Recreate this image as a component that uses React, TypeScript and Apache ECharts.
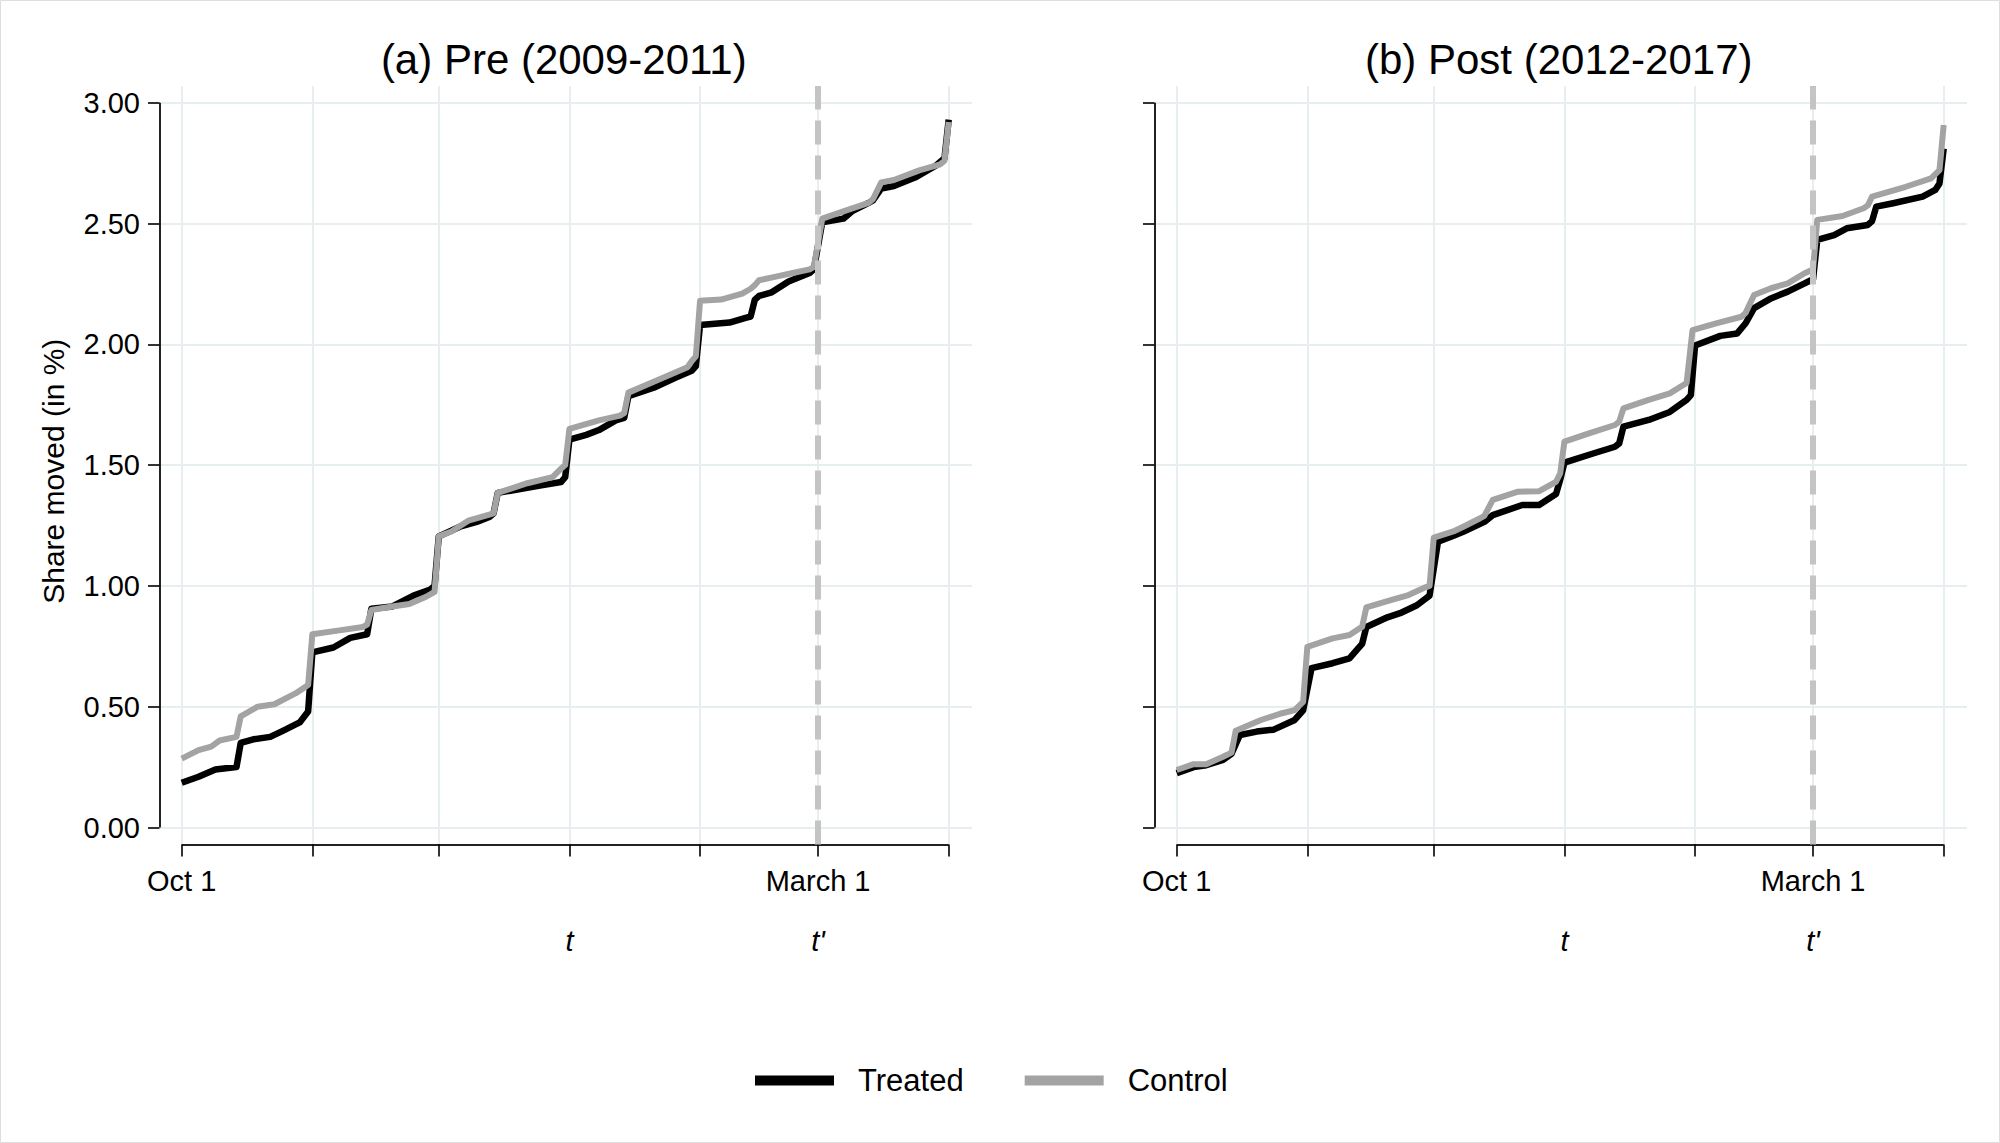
import React, { useEffect, useRef } from "react";
import * as echarts from "echarts";

// ---- data ----
const panelTitles = ["(a) Pre (2009-2011)", "(b) Post (2012-2017)"];
const seriesNames = ["Treated", "Control"];
const monthTickDays = [0, 31, 61, 92, 123, 151, 182];
const monthLabelDays = [0, 151];
const monthLabels = ["Oct 1", "March 1"];
const markerDays = [92, 151];
const markerLabels = ["t", "t'"];
const yTicks = [0, 0.5, 1, 1.5, 2, 2.5, 3];
const cutoffDay = 151;
const yAxisTitle = "Share moved (in %)";

const preTreatedDays = [0, 4, 8, 13, 14, 17, 21, 24, 28, 30, 31, 36, 40, 44, 45, 50, 55, 59, 60, 61, 66, 70, 73, 74, 75, 80, 85, 90, 91, 92, 96, 99, 103, 105, 106, 112, 117, 121, 122, 123, 130, 134, 135, 136, 137, 140, 144, 149, 150, 152, 157, 159, 163, 164, 166, 169, 174, 179, 181, 182];
const preTreatedVals = [0.185, 0.21, 0.24, 0.25, 0.35, 0.365, 0.375, 0.4, 0.435, 0.48, 0.725, 0.745, 0.785, 0.8, 0.905, 0.915, 0.96, 0.985, 1.0, 1.205, 1.245, 1.265, 1.285, 1.3, 1.385, 1.4, 1.415, 1.43, 1.45, 1.605, 1.625, 1.645, 1.685, 1.695, 1.785, 1.82, 1.86, 1.89, 1.91, 2.08, 2.09, 2.11, 2.115, 2.185, 2.2, 2.215, 2.26, 2.295, 2.31, 2.505, 2.52, 2.55, 2.585, 2.595, 2.645, 2.655, 2.69, 2.74, 2.77, 2.93];

const preControlDays = [0, 4, 7, 9, 13, 14, 18, 22, 27, 30, 31, 37, 43, 44, 45, 50, 54, 58, 60, 61, 64, 68, 73, 74, 75, 82, 88, 90, 91, 92, 99, 104, 105, 106, 112, 120, 121, 122, 123, 128, 133, 135, 136, 137, 141, 145, 149, 150, 152, 157, 163, 164, 166, 169, 175, 180, 181, 182];
const preControlVals = [0.285, 0.32, 0.335, 0.36, 0.375, 0.46, 0.5, 0.51, 0.555, 0.59, 0.8, 0.815, 0.83, 0.84, 0.9, 0.915, 0.925, 0.955, 0.975, 1.205, 1.225, 1.27, 1.295, 1.3, 1.385, 1.425, 1.45, 1.485, 1.5, 1.65, 1.685, 1.705, 1.715, 1.8, 1.845, 1.905, 1.93, 1.95, 2.18, 2.185, 2.21, 2.23, 2.245, 2.265, 2.28, 2.295, 2.31, 2.32, 2.52, 2.55, 2.585, 2.6, 2.67, 2.68, 2.72, 2.745, 2.76, 2.92];

const postTreatedDays = [0, 4, 7, 11, 13, 15, 19, 23, 28, 30, 32, 37, 41, 43, 44, 45, 50, 53, 57, 60, 62, 66, 68, 73, 75, 82, 86, 90, 91, 92, 99, 104, 105, 106, 112, 117, 121, 122, 123, 129, 133, 135, 137, 141, 145, 149, 151, 152, 156, 159, 164, 165, 166, 170, 177, 180, 181, 182];
const postTreatedVals = [0.225, 0.25, 0.258, 0.28, 0.305, 0.383, 0.397, 0.405, 0.445, 0.485, 0.66, 0.68, 0.7, 0.74, 0.76, 0.83, 0.87, 0.887, 0.92, 0.96, 1.183, 1.21, 1.224, 1.265, 1.293, 1.335, 1.335, 1.38, 1.44, 1.51, 1.549, 1.576, 1.59, 1.659, 1.687, 1.72, 1.77, 1.79, 1.995, 2.035, 2.045, 2.087, 2.15, 2.19, 2.218, 2.252, 2.27, 2.432, 2.452, 2.48, 2.494, 2.51, 2.57, 2.584, 2.611, 2.639, 2.666, 2.81];

const postControlDays = [0, 4, 7, 11, 13, 14, 20, 25, 28, 30, 31, 37, 41, 43, 44, 45, 51, 55, 59, 60, 61, 66, 68, 72, 73, 75, 81, 86, 90, 91, 92, 98, 104, 105, 106, 112, 117, 121, 122.4, 128, 134, 135, 137, 141, 145, 149, 151, 152, 158, 163, 164, 165, 173, 179, 181, 182];
const postControlVals = [0.238, 0.262, 0.262, 0.293, 0.31, 0.4, 0.445, 0.473, 0.486, 0.52, 0.748, 0.783, 0.797, 0.82, 0.83, 0.911, 0.942, 0.962, 0.994, 1.0, 1.2, 1.228, 1.245, 1.28, 1.29, 1.356, 1.39, 1.392, 1.431, 1.466, 1.597, 1.632, 1.666, 1.68, 1.735, 1.77, 1.797, 1.84, 2.059, 2.087, 2.114, 2.13, 2.204, 2.232, 2.252, 2.294, 2.31, 2.515, 2.531, 2.563, 2.575, 2.611, 2.652, 2.687, 2.721, 2.908];

const panels = [
  { treatedDays: preTreatedDays, treatedVals: preTreatedVals, controlDays: preControlDays, controlVals: preControlVals },
  { treatedDays: postTreatedDays, treatedVals: postTreatedVals, controlDays: postControlDays, controlVals: postControlVals },
];

// ---- layout / style (pixels, relative to each panel) ----
const FONT = "'Liberation Sans', Arial, Helvetica, sans-serif";
const PANEL_OFFSETS = [0, 995];
const DAY0_PX = 181.7; // x pixel of day 0 in the left panel
const PX_PER_DAY = 767 / 182;
const VAL0_PX = 827.5; // y pixel of value 0
const PX_PER_VAL = 724.8 / 3;
const GRID_L_PX = 148; // end of y ticks
const GRID_R_PX = 972;
const GRID_T_PX = 86;
const GRID_B_PX = 856.5; // end of x ticks
const YAXIS_PX = 159.5;
const XAXIS_PX = 844.5;

const pxToDay = (px: number) => (px - DAY0_PX) / PX_PER_DAY;
const pxToVal = (py: number) => (VAL0_PX - py) / PX_PER_VAL;
const X_MIN = pxToDay(GRID_L_PX);
const X_MAX = pxToDay(GRID_R_PX);
const Y_MIN = pxToVal(GRID_B_PX);
const Y_MAX = pxToVal(GRID_T_PX);
const AXIS_X = pxToDay(YAXIS_PX);
const AXIS_Y = pxToVal(XAXIS_PX);

const TREATED_COLOR = "#000000";
const CONTROL_COLOR = "#a3a3a3";
const GRID_COLOR = "#e6eef0";

const zip = (xs: number[], ys: number[]) => xs.map((x, i) => [x, ys[i]]);
const near = (a: number, b: number) => Math.abs(a - b) < 1e-6;
const seg = (a: number[], b: number[], lineStyle: any) => [{ coord: a, lineStyle }, { coord: b }];

function buildOption() {
  const grid = PANEL_OFFSETS.map((off) => ({
    left: GRID_L_PX + off,
    top: GRID_T_PX,
    width: GRID_R_PX - GRID_L_PX,
    height: GRID_B_PX - GRID_T_PX,
    containLabel: false,
    outerBoundsMode: "none",
  }));

  const xAxis: any[] = [];
  const yAxis: any[] = [];
  const series: any[] = [];

  panels.forEach((p, i) => {
    xAxis.push({
      gridIndex: i,
      type: "value",
      min: X_MIN,
      max: X_MAX,
      axisLine: { show: false },
      splitLine: { show: false },
      axisTick: { show: false },
      axisLabel: {
        show: true,
        customValues: monthLabelDays,
        formatter: (v: number) => {
          const k = monthLabelDays.findIndex((d) => near(d, v));
          return k >= 0 ? monthLabels[k] : "";
        },
        margin: 10,
        fontSize: 29,
        color: "#000",
        fontFamily: FONT,
      },
    });
    xAxis.push({
      gridIndex: i,
      type: "value",
      min: X_MIN,
      max: X_MAX,
      position: "bottom",
      axisLine: { show: false },
      splitLine: { show: false },
      axisTick: { show: false },
      axisLabel: {
        show: true,
        customValues: markerDays,
        formatter: (v: number) => {
          const k = markerDays.findIndex((d) => near(d, v));
          return k >= 0 ? markerLabels[k] : "";
        },
        margin: 70,
        fontSize: 29,
        fontStyle: "italic",
        color: "#000",
        fontFamily: FONT,
      },
    });
    yAxis.push({
      gridIndex: i,
      type: "value",
      min: Y_MIN,
      max: Y_MAX,
      axisLine: { show: false },
      splitLine: { show: false },
      axisTick: { show: false },
      axisLabel: {
        show: i === 0,
        customValues: yTicks,
        formatter: (v: number) => v.toFixed(2),
        margin: 8,
        fontSize: 29,
        color: "#000",
        fontFamily: FONT,
      },
      name: i === 0 ? yAxisTitle : "",
      nameLocation: "middle",
      nameGap: 80,
      nameTextStyle: { fontSize: 30, color: "#000", fontFamily: FONT },
    });

    const xi = i * 2;
    const gridStyle = { color: GRID_COLOR, width: 2, type: "solid" };
    const axisStyle = { color: "#222", width: 2, type: "solid" };
    const tickStyle = { color: "#000", width: 1.6, type: "solid" };
    const yTop = yTicks[yTicks.length - 1];
    const xEnd = monthTickDays[monthTickDays.length - 1];
    series.push({
      type: "line",
      xAxisIndex: xi,
      yAxisIndex: i,
      data: [],
      clip: false,
      silent: true,
      markLine: {
        z: 1,
        silent: true,
        symbol: "none",
        animation: false,
        label: { show: false },
        emphasis: { disabled: true },
        lineStyle: gridStyle,
        data: [
          ...monthTickDays.map((d) => seg([d, AXIS_Y], [d, Y_MAX], gridStyle)),
          ...yTicks.map((v) => seg([AXIS_X, v], [X_MAX, v], gridStyle)),
        ],
      },
    });
    series.push({
      type: "line",
      xAxisIndex: xi,
      yAxisIndex: i,
      data: [],
      clip: false,
      silent: true,
      markLine: {
        z: 2,
        silent: true,
        symbol: "none",
        animation: false,
        label: { show: false },
        emphasis: { disabled: true },
        lineStyle: axisStyle,
        data: [
          seg([AXIS_X, yTicks[0]], [AXIS_X, yTop], axisStyle),
          seg([monthTickDays[0], AXIS_Y], [xEnd, AXIS_Y], axisStyle),
          ...monthTickDays.map((d) => seg([d, AXIS_Y], [d, Y_MIN], tickStyle)),
          ...yTicks.map((v) => seg([AXIS_X, v], [X_MIN, v], tickStyle)),
        ],
      },
    });
    series.push({
      name: seriesNames[0],
      type: "line",
      xAxisIndex: xi,
      yAxisIndex: i,
      data: zip(p.treatedDays, p.treatedVals),
      showSymbol: false,
      symbol: "none",
      z: 3,
      lineStyle: { color: TREATED_COLOR, width: 6.5, join: "round" },
      itemStyle: { color: TREATED_COLOR },
      emphasis: { disabled: true },
    });
    series.push({
      name: seriesNames[1],
      type: "line",
      xAxisIndex: xi,
      yAxisIndex: i,
      data: zip(p.controlDays, p.controlVals),
      showSymbol: false,
      symbol: "none",
      z: 4,
      lineStyle: { color: CONTROL_COLOR, width: 6, join: "round" },
      itemStyle: { color: CONTROL_COLOR },
      emphasis: { disabled: true },
    });
    series.push({
      type: "line",
      xAxisIndex: xi,
      yAxisIndex: i,
      data: [],
      clip: false,
      silent: true,
      markLine: {
        z: 8,
        silent: true,
        symbol: "none",
        animation: false,
        label: { show: false },
        emphasis: { disabled: true },
        lineStyle: { color: "#c4c4c4", width: 6, type: [24, 11] },
        data: [seg([cutoffDay, AXIS_Y], [cutoffDay, Y_MAX], { color: "#c4c4c4", width: 6, type: [24, 11] })],
      },
    });
  });

  const graphic: any[] = [
    {
      type: "rect",
      silent: true,
      z: -10,
      shape: { x: 0.5, y: 0.5, width: 1999, height: 1142 },
      style: { fill: "none", stroke: "#dedede", lineWidth: 1 },
    },
    ...panelTitles.map((t, i) => ({
      type: "text",
      x: (YAXIS_PX + GRID_R_PX) / 2 + PANEL_OFFSETS[i] - 2,
      y: 59,
      style: {
        text: t,
        align: "center",
        verticalAlign: "middle",
        fontSize: 42,
        fontFamily: FONT,
        fill: "#000",
      },
    })),
  ];

  return {
    animation: false,
    backgroundColor: "#ffffff",
    textStyle: { fontFamily: FONT },
    grid,
    xAxis,
    yAxis,
    series,
    graphic,
    legend: {
      data: seriesNames,
      left: 750,
      top: 1060,
      icon: "rect",
      itemWidth: 79,
      itemHeight: 10,
      itemGap: 61,
      selectedMode: false,
      textStyle: { fontSize: 31, color: "#000", fontFamily: FONT, padding: [0, 0, 0, 19] },
    },
  };
}

export default function App() {
  const ref = useRef<HTMLDivElement>(null);
  useEffect(() => {
    document.body.style.margin = "0";
    if (!ref.current) return;
    const chart = echarts.init(ref.current, undefined, { renderer: "svg" });
    chart.setOption(buildOption() as any);
    return () => chart.dispose();
  }, []);
  return <div ref={ref} style={{ width: 2000, height: 1143 }} />;
}
